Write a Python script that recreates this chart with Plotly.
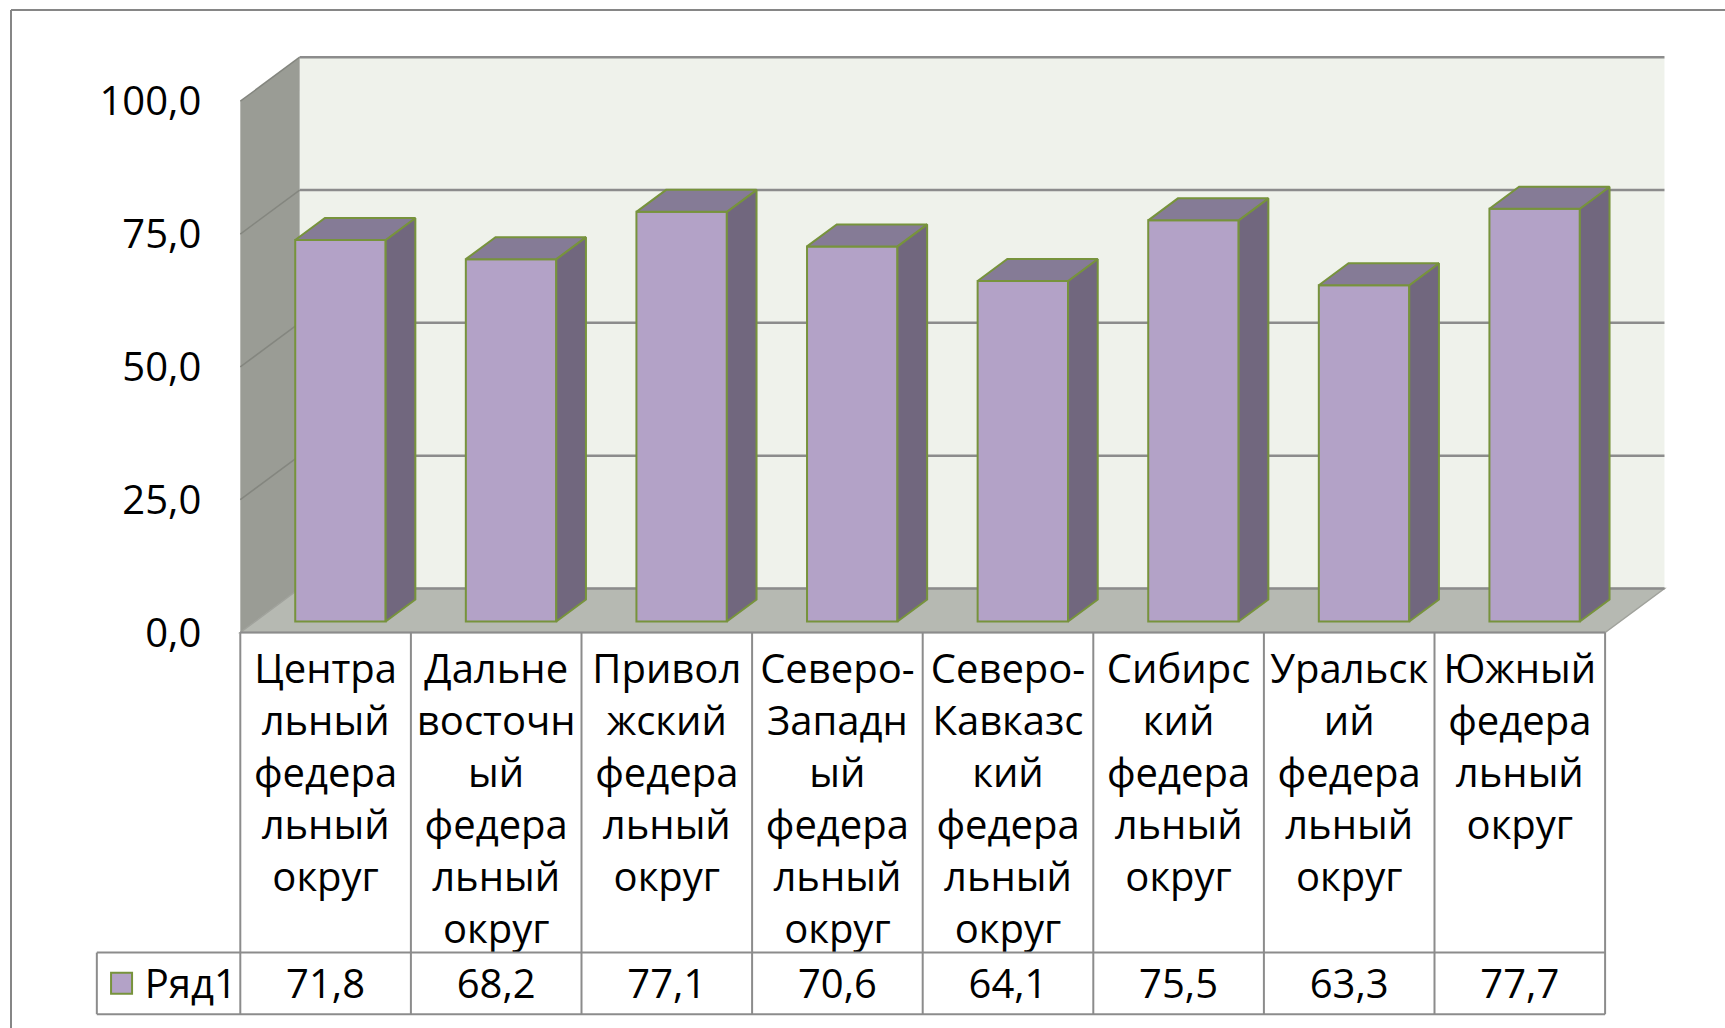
import plotly.graph_objects as go

# ---------------- data ----------------
categories = [
    "Центральный федеральный округ",
    "Дальневосточный федеральный округ",
    "Приволжский федеральный округ",
    "Северо-Западный федеральный округ",
    "Северо-Кавказский федеральный округ",
    "Сибирский федеральный округ",
    "Уральский федеральный округ",
    "Южный федеральный округ",
]
tick_labels = [
    "Центра<br>льный<br>федера<br>льный<br>округ",
    "Дальне<br>восточн<br>ый<br>федера<br>льный<br>округ",
    "Привол<br>жский<br>федера<br>льный<br>округ",
    "Северо-<br>Западн<br>ый<br>федера<br>льный<br>округ",
    "Северо-<br>Кавказс<br>кий<br>федера<br>льный<br>округ",
    "Сибирс<br>кий<br>федера<br>льный<br>округ",
    "Уральск<br>ий<br>федера<br>льный<br>округ",
    "Южный<br>федера<br>льный<br>округ",
]
values = [71.8, 68.2, 77.1, 70.6, 64.1, 75.5, 63.3, 77.7]
series_name = "Ряд1"
y_ticks = [0, 25, 50, 75, 100]

# ---------------- geometry / style ----------------
W, H = 1725, 1028
CAT_PX = 170.6      # px per category
VAL_PX = 5.313      # px per value unit
X0_PX = 325.6       # px position of category 0 centre
Y0_PX = 632.5       # px position of value 0 (front)
x_range = [-X0_PX / CAT_PX, (W - X0_PX) / CAT_PX]
y_range = [-(H - Y0_PX) / VAL_PX, Y0_PX / VAL_PX]

DX, DY = 0.348, 8.28        # depth projection (category units, value units)
D0, D1 = 0.25, 0.75          # bar depth extent
HW = 0.265                   # bar half width
n = len(categories)
YMAX = y_ticks[-1]
L, R = -0.5, n - 0.5
ROW1 = -60.25                # bottom of category row
ROW2 = -71.84                # bottom of value row
VAL_Y = -67.0                # centre of value row text
LEG_L = -1.341               # left edge of legend cell
LEG_X = -1.196               # legend key x
LEG_TX = -1.06               # legend text left

FONT = "Open Sans"
FS = 40
C_FRONT = "#B3A2C7"
C_TOP = "#857B96"
C_SIDE = "#71677E"
C_EDGE = "#77933C"
C_GRID = "#8C8C8C"


def P(x, v, d):
    return x + d * DX, v + d * DY


def xpaper(x):
    return (x - x_range[0]) / (x_range[1] - x_range[0])


def ypaper(y):
    return (y - y_range[0]) / (y_range[1] - y_range[0])


def path(pts):
    return "M " + " L ".join(f"{a},{b}" for a, b in pts) + " Z"


shapes = []
# back wall
shapes.append(dict(type="path", xref="x", yref="y", layer="below",
                   path=path([P(L, 0, 1), P(R, 0, 1), P(R, YMAX, 1), P(L, YMAX, 1)]),
                   fillcolor="#EFF2EB", line=dict(width=0)))
# left side wall
shapes.append(dict(type="path", xref="x", yref="y", layer="below",
                   path=path([P(L, 0, 0), P(L, YMAX, 0), P(L, YMAX, 1), P(L, 0, 1)]),
                   fillcolor="#9A9C95", line=dict(width=0)))
# floor
shapes.append(dict(type="path", xref="x", yref="y", layer="below",
                   path=path([P(L, 0, 0), P(R, 0, 0), P(R, 0, 1), P(L, 0, 1)]),
                   fillcolor="#B6B9B2", line=dict(color="#A0A29C", width=1.5)))
# gridlines on back wall and side wall
for t in y_ticks:
    x0, y0 = P(L, t, 1)
    x1, y1 = P(R, t, 1)
    shapes.append(dict(type="line", xref="x", yref="y", layer="below",
                       x0=x0, y0=y0, x1=x1, y1=y1, line=dict(color=C_GRID, width=2.5)))
    if t > 0:
        xa, ya = P(L, t, 0)
        shapes.append(dict(type="line", xref="x", yref="y", layer="below",
                           x0=xa, y0=ya, x1=x0, y1=y0, line=dict(color="#84867F", width=1.5)))

# data table lines
TL = dict(color="#8C8C8C", width=2)
shapes.append(dict(type="line", xref="x", yref="y", x0=L, y0=0, x1=R, y1=0, line=TL))
shapes.append(dict(type="line", xref="x", yref="y", x0=LEG_L, y0=ROW1, x1=R, y1=ROW1, line=TL))
shapes.append(dict(type="line", xref="x", yref="y", x0=LEG_L, y0=ROW2, x1=R, y1=ROW2, line=TL))
shapes.append(dict(type="line", xref="x", yref="y", x0=LEG_L, y0=ROW1, x1=LEG_L, y1=ROW2, line=TL))
for k in range(n + 1):
    shapes.append(dict(type="line", xref="x", yref="y", x0=L + k, y0=0, x1=L + k, y1=ROW2, line=TL))

# outer chart border
BL = dict(color="#868686", width=2)
bx, by = 11 / W, 1 - 10 / H
shapes.append(dict(type="line", xref="paper", yref="paper", x0=bx, y0=by, x1=1.02, y1=by, line=BL))
shapes.append(dict(type="line", xref="paper", yref="paper", x0=bx, y0=by, x1=bx, y1=-0.02, line=BL))

fig = go.Figure()

# bar front faces
fig.add_trace(go.Bar(
    x=[i + D0 * DX for i in range(n)], y=values, base=D0 * DY, width=2 * HW,
    marker=dict(color=C_FRONT, line=dict(color=C_EDGE, width=2)),
    name=series_name, showlegend=False, hoverinfo="skip"))

# bar top and side faces
top_x, top_y, side_x, side_y = [], [], [], []
for i, v in enumerate(values):
    xl, xr = i - HW, i + HW
    for pt in [P(xl, v, D0), P(xr, v, D0), P(xr, v, D1), P(xl, v, D1), P(xl, v, D0)]:
        top_x.append(pt[0]); top_y.append(pt[1])
    top_x.append(None); top_y.append(None)
    for pt in [P(xr, 0, D0), P(xr, v, D0), P(xr, v, D1), P(xr, 0, D1), P(xr, 0, D0)]:
        side_x.append(pt[0]); side_y.append(pt[1])
    side_x.append(None); side_y.append(None)

fig.add_trace(go.Scatter(x=side_x, y=side_y, mode="lines", fill="toself", fillcolor=C_SIDE,
                         line=dict(color=C_EDGE, width=2), showlegend=False, hoverinfo="skip"))
fig.add_trace(go.Scatter(x=top_x, y=top_y, mode="lines", fill="toself", fillcolor=C_TOP,
                         line=dict(color=C_EDGE, width=2), showlegend=False, hoverinfo="skip"))

# value row of the data table
fig.add_trace(go.Scatter(
    x=list(range(n)), y=[VAL_Y] * n, mode="text",
    text=[f"{v:.1f}".replace(".", ",") for v in values],
    textfont=dict(family=FONT, size=FS, color="black"),
    showlegend=False, hoverinfo="skip"))

# legend key in the table
fig.add_trace(go.Scatter(
    x=[LEG_X], y=[VAL_Y + 1.0], mode="markers",
    marker=dict(symbol="square", size=21, color=C_FRONT, line=dict(color=C_EDGE, width=2)),
    showlegend=False, hoverinfo="skip", cliponaxis=False))
fig.add_trace(go.Scatter(
    x=[LEG_TX], y=[VAL_Y], mode="text", text=[series_name],
    textposition="middle right",
    textfont=dict(family=FONT, size=FS, color="black"),
    showlegend=False, hoverinfo="skip", cliponaxis=False))

fig.update_layout(
    width=W, height=H,
    margin=dict(l=0, r=0, t=0, b=0, pad=0),
    paper_bgcolor="white", plot_bgcolor="white",
    separators=", ",
    shapes=shapes,
    showlegend=False,
    font=dict(family=FONT, size=FS, color="black"),
    xaxis=dict(range=x_range, domain=[0, 1], anchor="free", position=ypaper(0),
               tickmode="array", tickvals=list(range(n)), ticktext=tick_labels,
               tickangle=0, ticks="", showgrid=False, zeroline=False, showline=False,
               ticklabelstandoff=9, automargin=False, fixedrange=True,
               tickfont=dict(family=FONT, size=FS, color="black")),
    yaxis=dict(range=y_range, domain=[0, 1], anchor="free", position=xpaper(L),
               tickmode="array", tickvals=y_ticks, tickformat=".1f",
               ticks="", showgrid=False, zeroline=False, showline=False,
               ticklabelstandoff=39, automargin=False, fixedrange=True,
               tickfont=dict(family=FONT, size=FS, color="black")),
)

fig.write_html("out.html", config={"displayModeBar": False},
               post_script="document.body.style.margin='0';document.body.style.overflow='hidden';")
